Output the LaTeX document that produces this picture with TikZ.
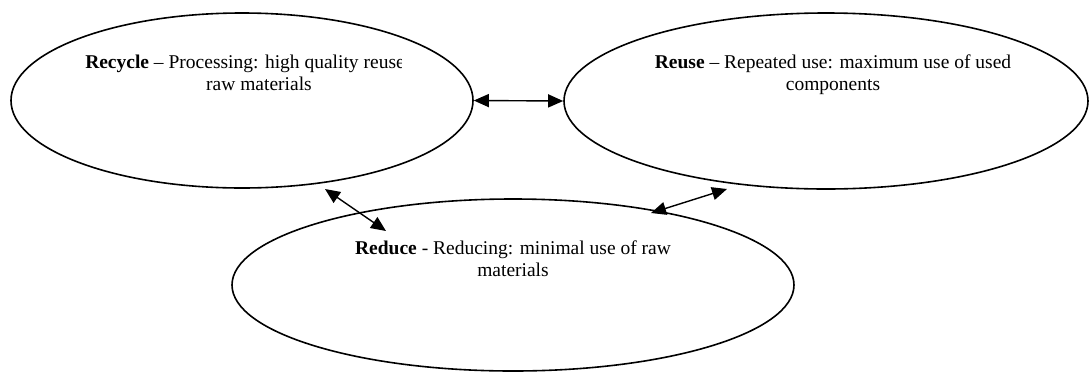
\documentclass[tikz,border=0pt]{standalone}
\usepackage{fontspec}
\setmainfont{Liberation Serif}
\usetikzlibrary{shapes.geometric}
\usetikzlibrary{arrows.meta}

\begin{document}
\begin{tikzpicture}[x=1pt,y=-1pt]
\useasboundingbox (0,0) rectangle (1090,373);
\begin{scope}
	\tikzstyle{every node}=[align=center, inner sep=0pt, font=\fontsize{19.5}{22}\selectfont]
	\tikzstyle{blob}=[draw, ellipse, line width=1.6pt]
	\tikzstyle{link}=[line width=1.4pt, {Triangle[length=15pt,width=13pt]}-{Triangle[length=15pt,width=13pt]}]
	\node[blob, minimum width=462pt, minimum height=175pt] (recycle) at (242,100.5) {};
	\node[blob, minimum width=524pt, minimum height=176pt] (reuse) at (826,101) {};
	\node[blob, minimum width=562pt, minimum height=172pt] (reduce) at (513,285) {};

	\begin{scope}
	\clip (0,0) rectangle (401,120);
	\node (recycletext) at (259,72.5) {\textbf{Recycle} -- Processing: high quality reuse\hspace*{28pt}\\raw materials};
	\end{scope}
	\node (reusetext) at (833,74.5) {\textbf{Reuse} -- Repeated use: maximum use of used\\components};
	\node (reducetext) at (513,258.5) {\textbf{Reduce} - Reducing: minimal use of raw\\materials};

	\coordinate (recycle-in) at (325,189);
	\coordinate (reduce-left) at (386,231);
	\coordinate (reduce-right) at (651,213);
	\coordinate (reuse-in) at (727,189);

	\draw [link] (recycle.east) -- (reuse.west);
	\draw [link] (recycle-in) -- (reduce-left);
	\draw [link] (reduce-right) -- (reuse-in);
\end{scope}
\end{tikzpicture}
\end{document}
